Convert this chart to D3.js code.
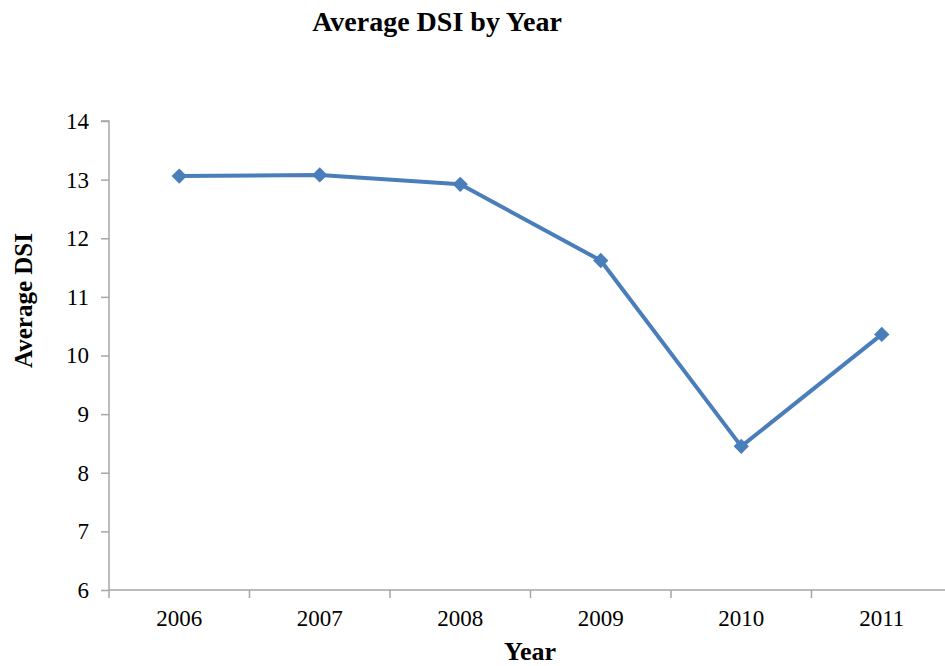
<!DOCTYPE html>
<html>
<head>
<meta charset="utf-8">
<script src="https://cdn.jsdelivr.net/npm/d3@7"></script>
<style>
  body { margin: 0; background: #fff; overflow: hidden; }
  svg { display: block; font-family: "Liberation Serif", "Times New Roman", serif; }
</style>
</head>
<body>
<svg id="chart" width="945" height="666"></svg>
<script>
// Average DSI per year
const years = ["2006", "2007", "2008", "2009", "2010", "2011"];
const avgDSI = [13.06, 13.08, 12.92, 11.62, 8.45, 10.36];
const yTicks = [6, 7, 8, 9, 10, 11, 12, 13, 14];

const svg = d3.select("#chart");
const W = 945, H = 666;
const plotLeft = 109, plotTop = 121, plotBottom = 590;
// the category axis runs slightly past the right edge of the canvas
const plotRight = plotLeft + 6 * 140.5;

const x = d3.scaleBand().domain(years).range([plotLeft, plotRight]);
const y = d3.scaleLinear().domain([6, 14]).range([plotBottom, plotTop]);

const axisColor = "#a6a6a6";

// y axis
const yAxis = svg.append("g")
  .attr("transform", `translate(${plotLeft},0)`)
  .call(d3.axisLeft(y).tickValues(yTicks).tickSize(8).tickPadding(12).tickFormat(d3.format("d")));
yAxis.select(".domain").attr("stroke", axisColor).attr("stroke-width", 1.5)
  .attr("d", `M-8,${y(14)}H0V${y(6)}`);
yAxis.selectAll(".tick line").attr("stroke", axisColor).attr("stroke-width", 1.5);
yAxis.selectAll(".tick text").attr("font-size", 23).attr("fill", "#000")
  .attr("font-family", "Liberation Serif, serif");

// x axis with ticks at category boundaries
const xAxisG = svg.append("g").attr("transform", `translate(0,${y(6)})`);
xAxisG.append("line")
  .attr("x1", plotLeft).attr("x2", plotRight)
  .attr("stroke", axisColor).attr("stroke-width", 1.5);
const boundaries = years.map(d => x(d)).concat([x(years[years.length - 1]) + x.bandwidth()]);
xAxisG.selectAll("line.tk").data(boundaries).join("line")
  .attr("class", "tk")
  .attr("x1", d => d).attr("x2", d => d)
  .attr("y1", 0).attr("y2", 8)
  .attr("stroke", axisColor).attr("stroke-width", 1.5);
xAxisG.selectAll("text").data(years).join("text")
  .attr("x", d => x(d) + x.bandwidth() / 2)
  .attr("y", 36)
  .attr("text-anchor", "middle")
  .attr("font-size", 23)
  .text(d => d);

// series line
const pts = years.map((d, i) => [x(d) + x.bandwidth() / 2, y(avgDSI[i])]);
const color = "#4a7ebb";
svg.append("path")
  .attr("d", d3.line()(pts))
  .attr("fill", "none")
  .attr("stroke", color)
  .attr("stroke-width", 4)
  .attr("stroke-linejoin", "round");

svg.selectAll("path.mk").data(pts).join("path")
  .attr("class", "mk")
  .attr("transform", d => `translate(${d[0]},${d[1]})`)
  .attr("d", d3.symbol(d3.symbolDiamond2, 150)())
  .attr("fill", color);

// titles
svg.append("text")
  .attr("x", 437).attr("y", 31)
  .attr("text-anchor", "middle")
  .attr("font-size", 28).attr("font-weight", "bold")
  .text("Average DSI by Year");

svg.append("text")
  .attr("x", 530).attr("y", 660)
  .attr("text-anchor", "middle")
  .attr("font-size", 26).attr("font-weight", "bold")
  .text("Year");

svg.append("text")
  .attr("transform", `translate(32,${(y(14) + y(6)) / 2 - 55}) rotate(-90)`)
  .attr("text-anchor", "middle")
  .attr("font-size", 25).attr("font-weight", "bold")
  .text("Average DSI");
</script>
</body>
</html>
